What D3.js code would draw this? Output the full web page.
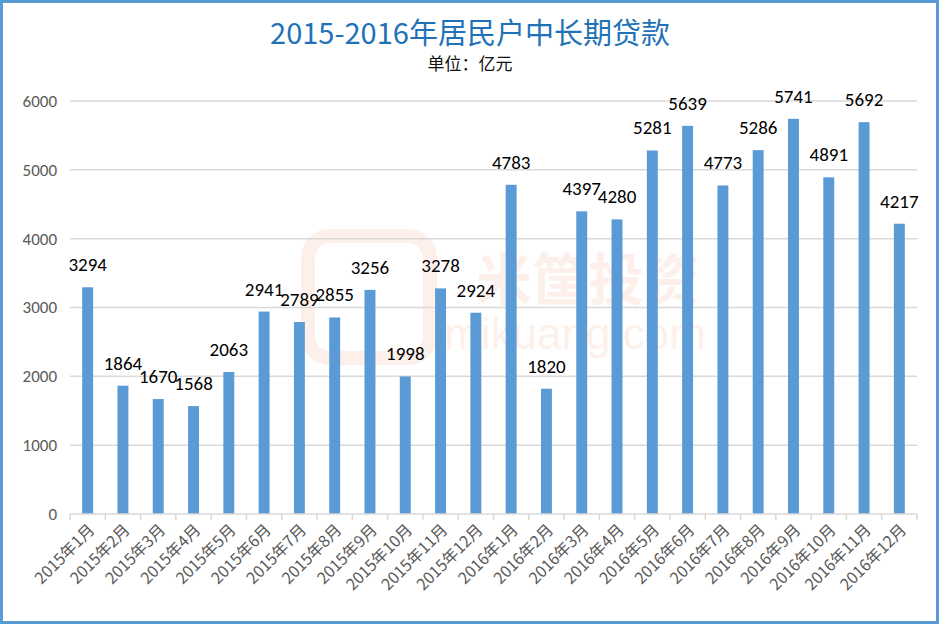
<!DOCTYPE html>
<html>
<head>
<meta charset="utf-8">
<script src="https://cdn.jsdelivr.net/npm/d3@7/dist/d3.min.js"></script>
<style>
  html, body { margin: 0; padding: 0; background: #fff; }
  svg { display: block; font-family: "Microsoft YaHei", "Noto Sans CJK SC", sans-serif; }
</style>
</head>
<body>
<div class="chart"></div>
<script>
const MONTHS = [
  "2015年1月", "2015年2月", "2015年3月", "2015年4月", "2015年5月", "2015年6月",
  "2015年7月", "2015年8月", "2015年9月", "2015年10月", "2015年11月", "2015年12月",
  "2016年1月", "2016年2月", "2016年3月", "2016年4月", "2016年5月", "2016年6月",
  "2016年7月", "2016年8月", "2016年9月", "2016年10月", "2016年11月", "2016年12月",
];
const LOANS = [
  3294, 1864, 1670, 1568, 2063, 2941, 2789, 2855, 3256, 1998, 3278, 2924,
  4783, 1820, 4397, 4280, 5281, 5639, 4773, 5286, 5741, 4891, 5692, 4217,
];
const Y_TICKS = [0, 1000, 2000, 3000, 4000, 5000, 6000];

const WIDTH = 939;
const HEIGHT = 624;
const PLOT_LEFT = 70;
const PLOT_RIGHT = 917;
const PLOT_TOP = 101;
const PLOT_BOTTOM = 514;
const BAR_COLOR = "#5b9bd5";
const NUM_FONT = "Calibri, Carlito, 'Liberation Sans', sans-serif";

const svg = d3.create("svg").attr("width", WIDTH).attr("height", HEIGHT);

// frame
svg.append("rect")
  .attr("x", 1.5).attr("y", 1.5)
  .attr("width", WIDTH - 3).attr("height", HEIGHT - 3)
  .attr("fill", "#fff")
  .attr("stroke", BAR_COLOR)
  .attr("stroke-width", 3);

// watermark
const wm = svg.append("g").attr("opacity", 0.09);
wm.append("rect")
  .attr("x", 308).attr("y", 236).attr("width", 122).attr("height", 122)
  .attr("rx", 22).attr("fill", "none").attr("stroke", "#f26522").attr("stroke-width", 14);
wm.append("text")
  .attr("x", 588).attr("y", 300)
  .attr("text-anchor", "middle")
  .attr("font-size", 56).attr("font-weight", "bold")
  .attr("fill", "#f26522")
  .text("米筐投资");
wm.append("text")
  .attr("x", 575).attr("y", 349)
  .attr("text-anchor", "middle")
  .attr("font-size", 44)
  .attr("font-family", "Arial, 'Liberation Sans', sans-serif")
  .attr("fill", "#f26522")
  .text("mikuang.com");

// title
svg.append("text")
  .attr("x", 470).attr("y", 44)
  .attr("text-anchor", "middle")
  .attr("font-size", 29)
  .attr("fill", "#1f72b8")
  .text("2015-2016年居民户中长期贷款");

svg.append("text")
  .attr("x", 470).attr("y", 70)
  .attr("text-anchor", "middle")
  .attr("font-size", 17)
  .attr("fill", "#111")
  .text("单位：亿元");

const x = d3.scaleBand().domain(MONTHS).range([PLOT_LEFT, PLOT_RIGHT]).paddingInner(0.69).paddingOuter(0.345);
const xTicks = d3.scaleBand().domain(MONTHS).range([PLOT_LEFT, PLOT_RIGHT]);
const y = d3.scaleLinear().domain([0, 6000]).range([PLOT_BOTTOM, PLOT_TOP]);

// grid lines
svg.append("g")
  .selectAll("line")
  .data(Y_TICKS.filter((d) => d > 0))
  .join("line")
  .attr("x1", PLOT_LEFT).attr("x2", PLOT_RIGHT)
  .attr("y1", (d) => y(d)).attr("y2", (d) => y(d))
  .attr("stroke", "#d9d9d9")
  .attr("stroke-width", 1.5);

// y axis labels
const yAxis = svg.append("g")
  .attr("transform", `translate(${PLOT_LEFT}, 0)`)
  .call(d3.axisLeft(y).tickValues(Y_TICKS).tickFormat(d3.format("d")).tickSize(0).tickPadding(13));
yAxis.select(".domain").remove();
yAxis.selectAll("text")
  .attr("font-size", 17)
  .attr("fill", "#595959")
  .attr("font-family", NUM_FONT);

// bars
svg.append("g")
  .selectAll("rect")
  .data(MONTHS)
  .join("rect")
  .attr("x", (d) => x(d))
  .attr("width", x.bandwidth())
  .attr("y", (d, i) => y(LOANS[i]))
  .attr("height", (d, i) => y(0) - y(LOANS[i]))
  .attr("fill", BAR_COLOR);

// value labels
svg.append("g")
  .selectAll("text")
  .data(MONTHS)
  .join("text")
  .attr("x", (d) => x(d) + x.bandwidth() / 2)
  .attr("y", (d, i) => y(LOANS[i]) - 16)
  .attr("text-anchor", "middle")
  .attr("font-size", 19)
  .attr("fill", "#000")
  .attr("font-family", NUM_FONT)
  .text((d, i) => LOANS[i]);

// x axis
const tickPositions = MONTHS.map((m) => xTicks(m)).concat([PLOT_RIGHT]);
const xAxisG = svg.append("g");
xAxisG.append("line")
  .attr("x1", PLOT_LEFT).attr("x2", PLOT_RIGHT)
  .attr("y1", PLOT_BOTTOM).attr("y2", PLOT_BOTTOM)
  .attr("stroke", "#d9d9d9").attr("stroke-width", 1.5);
xAxisG.selectAll(".tick-mark")
  .data(tickPositions)
  .join("line")
  .attr("class", "tick-mark")
  .attr("x1", (d) => d).attr("x2", (d) => d)
  .attr("y1", PLOT_BOTTOM).attr("y2", PLOT_BOTTOM + 6)
  .attr("stroke", "#d9d9d9").attr("stroke-width", 1.5);

xAxisG.selectAll(".tick-label")
  .data(MONTHS)
  .join("text")
  .attr("class", "tick-label")
  .attr("transform", (d) => `translate(${xTicks(d) + xTicks.bandwidth() / 2 + 8}, ${PLOT_BOTTOM + 17}) rotate(-45)`)
  .attr("text-anchor", "end")
  .attr("font-size", 16)
  .attr("fill", "#595959")
  .text((d) => d);

document.querySelector(".chart").append(svg.node());
</script>
</body>
</html>
